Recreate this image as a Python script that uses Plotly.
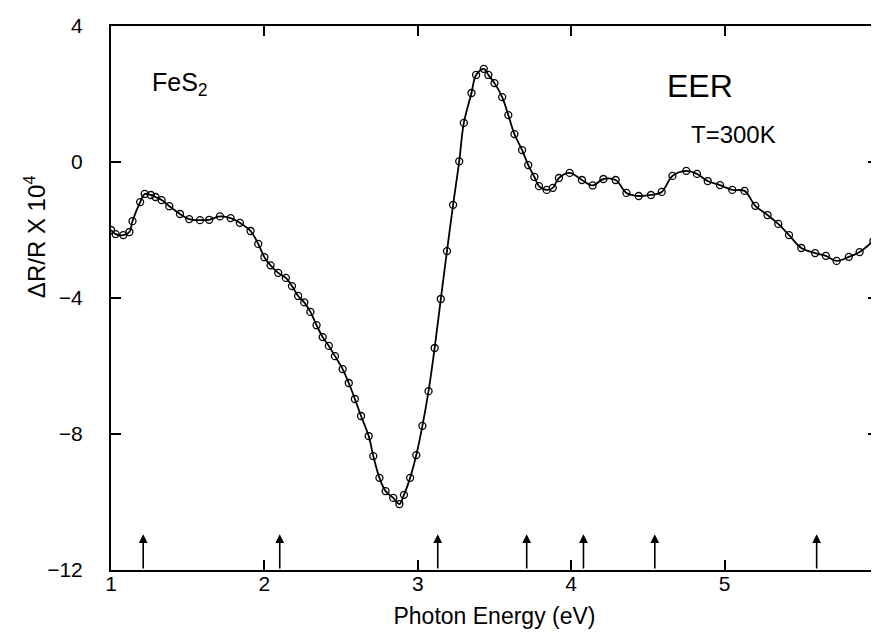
import plotly.graph_objects as go

energy = [1.00, 1.03, 1.08, 1.12, 1.14, 1.19, 1.22, 1.26, 1.29, 1.33, 1.38, 1.45, 1.51, 1.58, 1.64,
          1.71, 1.78, 1.84, 1.91, 1.96, 2.00, 2.04, 2.09, 2.14, 2.18, 2.22, 2.26, 2.30, 2.34, 2.38,
          2.42, 2.46, 2.51, 2.55, 2.59, 2.63, 2.68, 2.71, 2.75, 2.79, 2.84, 2.88, 2.91, 2.95, 2.99,
          3.03, 3.07, 3.11, 3.15, 3.19, 3.23, 3.27, 3.30, 3.35, 3.38, 3.43, 3.46, 3.50, 3.55, 3.59,
          3.63, 3.68, 3.72, 3.76, 3.79, 3.84, 3.88, 3.92, 3.99, 4.07, 4.14, 4.21, 4.29, 4.36, 4.44,
          4.52, 4.59, 4.66, 4.75, 4.82, 4.89, 4.97, 5.05, 5.13, 5.20, 5.28, 5.35, 5.42, 5.50, 5.59,
          5.66, 5.73, 5.81, 5.88, 5.97]
dr_r = [-2.00, -2.12, -2.15, -2.06, -1.74, -1.18, -0.94, -0.97, -1.03, -1.12, -1.30, -1.53, -1.68, -1.71, -1.70,
        -1.60, -1.65, -1.79, -2.03, -2.41, -2.80, -3.04, -3.26, -3.41, -3.65, -3.94, -4.13, -4.41, -4.80, -5.15,
        -5.41, -5.71, -6.09, -6.50, -6.97, -7.47, -8.06, -8.65, -9.29, -9.68, -9.88, -10.06, -9.79, -9.29, -8.62,
        -7.76, -6.74, -5.47, -4.03, -2.62, -1.26, 0.02, 1.15, 2.03, 2.56, 2.74, 2.56, 2.32, 1.91, 1.38,
        0.82, 0.35, -0.09, -0.44, -0.71, -0.82, -0.76, -0.47, -0.32, -0.53, -0.69, -0.50, -0.53, -0.91, -1.00,
        -0.97, -0.88, -0.41, -0.26, -0.35, -0.56, -0.68, -0.82, -0.85, -1.29, -1.56, -1.82, -2.15, -2.53, -2.68,
        -2.76, -2.91, -2.79, -2.65, -2.32]

arrow_energies = [1.21, 2.10, 3.13, 3.71, 4.08, 4.545, 5.60]
x_ticks = [1, 2, 3, 4, 5, 6]
y_ticks = [-12, -8, -4, 0, 4]

FONT = "Liberation Sans, Arial, sans-serif"
TICKFONT = dict(family=FONT, size=21, color="black")

fig = go.Figure()
fig.add_trace(go.Scatter(x=energy, y=dr_r, mode="lines", line=dict(color="black", width=1.8, shape="spline", smoothing=1.0),
                         hoverinfo="skip", showlegend=False))
fig.add_trace(go.Scatter(x=energy, y=dr_r, mode="markers",
                         marker=dict(symbol="circle-open", size=7, color="black", line=dict(width=1.3)),
                         showlegend=False))

annotations = []
for e in arrow_energies:
    annotations.append(dict(x=e, y=-10.95, ax=e, ay=-12, xref="x", yref="y", axref="x", ayref="y",
                            showarrow=True, arrowhead=2, arrowsize=1.1, arrowwidth=1.6, arrowcolor="black", text=""))

annotations += [
    dict(x=1.45, y=2.3, xref="x", yref="y", text="FeS<sub>2</sub>", showarrow=False,
         font=dict(family=FONT, size=25, color="black")),
    dict(x=4.84, y=2.24, xref="x", yref="y", text="EER", showarrow=False,
         font=dict(family=FONT, size=32, color="black")),
    dict(x=5.06, y=0.82, xref="x", yref="y", text="T=300K", showarrow=False,
         font=dict(family=FONT, size=24, color="black")),
    dict(x=-0.099, y=0.612, xref="paper", yref="paper", xanchor="center", yanchor="middle",
         text="ΔR/R X 10<sup>4</sup>", showarrow=False,
         textangle=-90, font=dict(family=FONT, size=24, color="black")),
]

fig.update_layout(
    width=879, height=644,
    margin=dict(l=103, r=3, t=18, b=82),
    paper_bgcolor="white", plot_bgcolor="white",
    font=dict(family=FONT, size=20, color="black"),
    annotations=annotations,
    showlegend=False,
)
fig.update_xaxes(range=[1, 6], tickvals=x_ticks, ticktext=[str(t) for t in x_ticks],
                 ticks="inside", ticklen=10, tickwidth=1.5, tickcolor="black",
                 showline=True, linecolor="black", linewidth=2, mirror="ticks",
                 showgrid=False, zeroline=False, ticklabelstandoff=-6, tickfont=TICKFONT,
                 ticklabeloverflow="allow",
                 title=dict(text="Photon Energy (eV)", font=dict(family=FONT, size=23), standoff=14))
fig.update_yaxes(range=[-12, 4], tickvals=y_ticks, ticktext=["\u221212", "\u22128", "\u22124", "0", "4"],
                 ticks="inside", ticklen=10, tickwidth=1.5, tickcolor="black",
                 showline=True, linecolor="black", linewidth=2, mirror="ticks",
                 showgrid=False, zeroline=False, ticklabelstandoff=22, tickfont=TICKFONT)

fig.write_html("out.html")
